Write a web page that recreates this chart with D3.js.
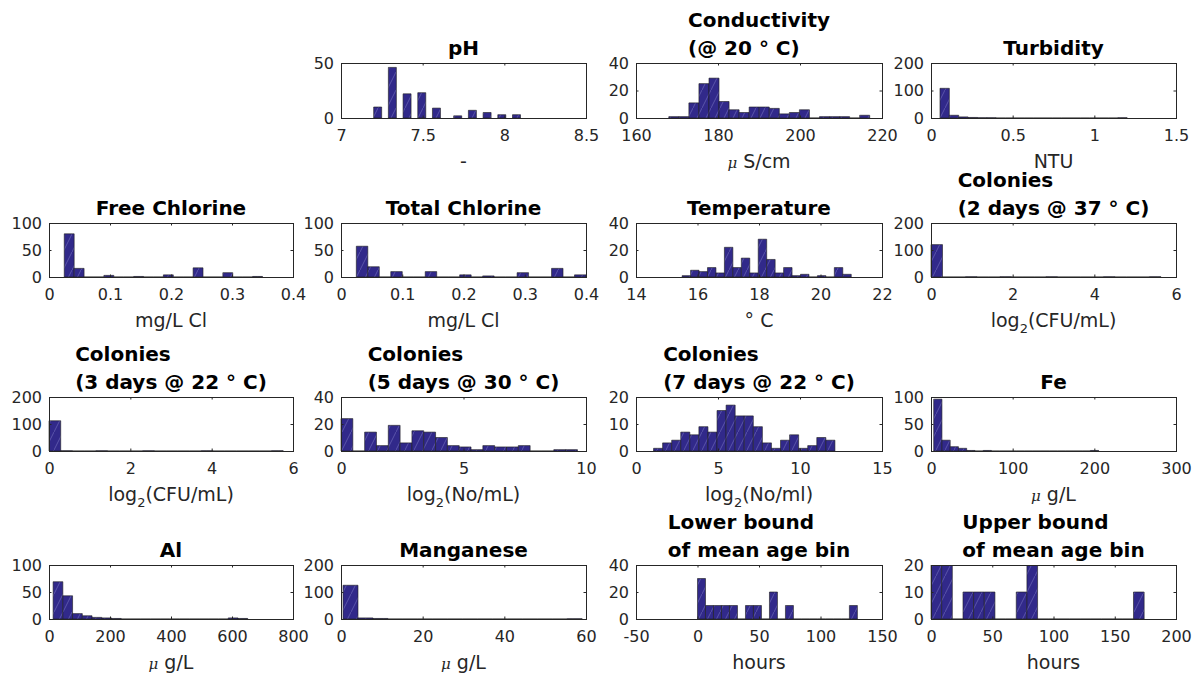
<!DOCTYPE html>
<html>
<head>
<meta charset="utf-8">
<script src="https://cdn.jsdelivr.net/npm/d3@7"></script>
<style>
  body { margin: 0; background: #fff; }
  svg { display: block; }
  text { font-family: "DejaVu Sans", sans-serif; }
</style>
</head>
<body>
<svg id="chart"></svg>
<script>
// Histogram data (bin start, bin width, counts)

// pH (irregular bars)
const phLeft = [7.20, 7.29, 7.38, 7.47, 7.56, 7.69, 7.78, 7.87, 7.96, 8.05];
const phWidth = 0.049;
const phCounts = [10, 46, 22, 23, 9, 2, 7, 5, 3, 3];

// Conductivity
const condStart = 168, condWidth = 2.45;
const condCounts = [1, 1, 11, 25, 29, 12, 6, 4, 8, 8, 7, 3, 4, 6, 0, 1, 1, 1, 0, 2];

// Turbidity
const turbStart = 0.055, turbWidth = 0.0573;
const turbCounts = [108, 10, 4, 2, 1, 1, 0, 0, 0, 0, 0, 0, 0, 0, 0, 0, 0, 0, 0, 1];

// Free chlorine
const fclStart = 0.025, fclWidth = 0.01625;
const fclCounts = [80, 16, 0, 0, 3, 0, 0, 1, 0, 0, 4, 0, 0, 17, 0, 0, 8, 0, 0, 1];

// Total chlorine
const tclStart = 0.025, tclWidth = 0.01875;
const tclCounts = [57, 19, 0, 10, 0, 0, 10, 0, 0, 4, 0, 2, 0, 0, 8, 0, 0, 16, 0, 4];

// Temperature
const tempStart = 15.5, tempWidth = 0.275;
const tempCounts = [1, 5, 4, 7, 3, 22, 7, 14, 3, 28, 13, 3, 7, 1, 2, 0, 1, 0, 7, 2];

// Colonies 2 days @ 37
const c2Start = 0, c2Width = 0.2815;
const c2Counts = [120, 0, 0, 1, 0, 0, 1, 0, 0, 0, 1, 0, 0, 0, 0, 1, 0, 0, 0, 1];

// Colonies 3 days @ 22
const c3Start = 0, c3Width = 0.288;
const c3Counts = [112, 1, 0, 0, 1, 0, 0, 0, 1, 0, 0, 0, 0, 1, 0, 0, 0, 0, 0, 1];

// Colonies 5 days @ 30
const c5Start = 0, c5Width = 0.4825;
const c5Counts = [24, 0, 14, 4, 19, 6, 15, 14, 10, 4, 3, 1, 4, 3, 3, 4, 0, 0, 1, 1];

// Colonies 7 days @ 22
const c7Start = 1.07, c7Width = 0.553;
const c7Counts = [1, 3, 4, 7, 6, 9, 7, 15, 17, 13, 13, 9, 3, 1, 4, 6, 1, 2, 5, 4];

// Fe
const feStart = 3.3, feWidth = 10.1;
const feCounts = [96, 20, 8, 5, 1, 0, 1, 0, 0, 0, 0, 0, 0, 0, 0, 0, 0, 0, 0, 1];

// Al
const alStart = 13.5, alWidth = 31.9;
const alCounts = [69, 43, 10, 6, 3, 2, 1, 0, 0, 0, 0, 0, 0, 0, 0, 0, 0, 0, 2, 1];

// Manganese
const mnStart = 0.5, mnWidth = 3.66;
const mnCounts = [125, 4, 2, 0, 0, 0, 0, 0, 0, 0, 0, 0, 0, 0, 0, 1];

// Lower bound of mean age bin
const lowStart = 0, lowWidth = 6.5;
const lowCounts = [30, 10, 10, 10, 10, 0, 10, 10, 0, 20, 0, 10, 0, 0, 0, 0, 0, 0, 0, 10];

// Upper bound of mean age bin
const upStart = 0, upWidth = 8.7;
const upCounts = [30, 20, 0, 10, 10, 10, 0, 0, 10, 20, 0, 0, 0, 0, 0, 0, 0, 0, 0, 10];

// Tick values
const phXTicks = [7, 7.5, 8, 8.5], phYTicks = [0, 50];
const condXTicks = [160, 180, 200, 220], condYTicks = [0, 20, 40];
const turbXTicks = [0, 0.5, 1, 1.5], turbYTicks = [0, 100, 200];
const clXTicks = [0, 0.1, 0.2, 0.3, 0.4], clYTicks = [0, 50, 100];
const tempXTicks = [14, 16, 18, 20, 22], tempYTicks = [0, 20, 40];
const cfuXTicks = [0, 2, 4, 6], cfuYTicks = [0, 100, 200];
const c5XTicks = [0, 5, 10], c5YTicks = [0, 20, 40];
const c7XTicks = [0, 5, 10, 15], c7YTicks = [0, 10, 20];
const feXTicks = [0, 100, 200, 300], feYTicks = [0, 50, 100];
const alXTicks = [0, 200, 400, 600, 800], alYTicks = [0, 50, 100];
const mnXTicks = [0, 20, 40, 60], mnYTicks = [0, 100, 200];
const lowXTicks = [-50, 0, 50, 100, 150], lowYTicks = [0, 20, 40];
const upXTicks = [0, 50, 100, 150, 200], upYTicks = [0, 10, 20];

// Layout of the 4x4 grid (pixel bounds of each axes box)
const colX = [[49, 293], [341, 586], [636, 882], [931, 1176]];
const rowY = [[63, 118], [223, 277], [397, 451], [565, 619]];

const regular = (start, width, counts) => counts.map((n, i) => ({x0: start + i * width, x1: start + (i + 1) * width, n}));

const panels = [
  {row: 0, col: 1, title: ["pH"], xlabel: "-", xDom: [7, 8.5], yDom: [0, 50], xt: phXTicks, yt: phYTicks,
    bins: phCounts.map((n, i) => ({x0: phLeft[i], x1: phLeft[i] + phWidth, n}))},
  {row: 0, col: 2, title: ["Conductivity", "(@ 20 ° C)"], xlabel: "\\mu S/cm", xDom: [160, 220], yDom: [0, 40], xt: condXTicks, yt: condYTicks,
    bins: regular(condStart, condWidth, condCounts)},
  {row: 0, col: 3, title: ["Turbidity"], xlabel: "NTU", xDom: [0, 1.5], yDom: [0, 200], xt: turbXTicks, yt: turbYTicks,
    bins: regular(turbStart, turbWidth, turbCounts)},
  {row: 1, col: 0, title: ["Free Chlorine"], xlabel: "mg/L Cl", xDom: [0, 0.4], yDom: [0, 100], xt: clXTicks, yt: clYTicks,
    bins: regular(fclStart, fclWidth, fclCounts)},
  {row: 1, col: 1, title: ["Total Chlorine"], xlabel: "mg/L Cl", xDom: [0, 0.4], yDom: [0, 100], xt: clXTicks, yt: clYTicks,
    bins: regular(tclStart, tclWidth, tclCounts)},
  {row: 1, col: 2, title: ["Temperature"], xlabel: "° C", xDom: [14, 22], yDom: [0, 40], xt: tempXTicks, yt: tempYTicks,
    bins: regular(tempStart, tempWidth, tempCounts)},
  {row: 1, col: 3, title: ["Colonies", "(2 days @ 37 ° C)"], xlabel: "log_2(CFU/mL)", xDom: [0, 6], yDom: [0, 200], xt: cfuXTicks, yt: cfuYTicks,
    bins: regular(c2Start, c2Width, c2Counts)},
  {row: 2, col: 0, title: ["Colonies", "(3 days @ 22 ° C)"], xlabel: "log_2(CFU/mL)", xDom: [0, 6], yDom: [0, 200], xt: cfuXTicks, yt: cfuYTicks,
    bins: regular(c3Start, c3Width, c3Counts)},
  {row: 2, col: 1, title: ["Colonies", "(5 days @ 30 ° C)"], xlabel: "log_2(No/mL)", xDom: [0, 10], yDom: [0, 40], xt: c5XTicks, yt: c5YTicks,
    bins: regular(c5Start, c5Width, c5Counts)},
  {row: 2, col: 2, title: ["Colonies", "(7 days @ 22 ° C)"], xlabel: "log_2(No/ml)", xDom: [0, 15], yDom: [0, 20], xt: c7XTicks, yt: c7YTicks,
    bins: regular(c7Start, c7Width, c7Counts)},
  {row: 2, col: 3, title: ["Fe"], xlabel: "\\mu g/L", xDom: [0, 300], yDom: [0, 100], xt: feXTicks, yt: feYTicks,
    bins: regular(feStart, feWidth, feCounts)},
  {row: 3, col: 0, title: ["Al"], xlabel: "\\mu g/L", xDom: [0, 800], yDom: [0, 100], xt: alXTicks, yt: alYTicks,
    bins: regular(alStart, alWidth, alCounts)},
  {row: 3, col: 1, title: ["Manganese"], xlabel: "\\mu g/L", xDom: [0, 60], yDom: [0, 200], xt: mnXTicks, yt: mnYTicks,
    bins: regular(mnStart, mnWidth, mnCounts)},
  {row: 3, col: 2, title: ["Lower bound", "of mean age bin"], xlabel: "hours", xDom: [-50, 150], yDom: [0, 40], xt: lowXTicks, yt: lowYTicks,
    bins: regular(lowStart, lowWidth, lowCounts)},
  {row: 3, col: 3, title: ["Upper bound", "of mean age bin"], xlabel: "hours", xDom: [0, 200], yDom: [0, 20], xt: upXTicks, yt: upYTicks,
    bins: regular(upStart, upWidth, upCounts)}
];

const axisColor = "#262626";
const barColor = "#31298a";

const svg = d3.select("#chart").attr("width", 1199).attr("height", 677);
const defs = svg.append("defs");

// hatched fill of the bars
const hatch = defs.append("pattern")
  .attr("id", "hatch")
  .attr("patternUnits", "userSpaceOnUse")
  .attr("width", 9)
  .attr("height", 18);
hatch.append("rect").attr("width", 9).attr("height", 18).attr("fill", barColor);
hatch.append("path").attr("d", "M0,18L9,0").attr("stroke", "#8c88d0").attr("stroke-width", 0.6).attr("opacity", 0.75);

panels.forEach((p, i) => drawPanel(p, i));

function drawPanel (p, i) {
  const [x0, x1] = colX[p.col];
  const [y0, y1] = rowY[p.row];
  const x = d3.scaleLinear().domain(p.xDom).range([x0, x1]);
  const y = d3.scaleLinear().domain(p.yDom).range([y1, y0]);
  const g = svg.append("g");

  defs.append("clipPath").attr("id", "clip" + i)
    .append("rect")
    .attr("x", x0 - 1).attr("y", y0)
    .attr("width", x1 - x0 + 2).attr("height", y1 - y0 + 1);

  // bars (paths so that empty bins still show as a line)
  g.append("g")
    .attr("clip-path", `url(#clip${i})`)
    .selectAll("path")
    .data(p.bins)
    .join("path")
    .attr("d", (d) => `M${x(d.x0)},${y(0)}V${y(d.n)}H${x(d.x1)}V${y(0)}Z`)
    .attr("fill", "url(#hatch)")
    .attr("stroke", "#1c1c1c")
    .attr("stroke-width", 0.6);

  const styleAxis = (a) => {
    a.select(".domain").remove();
    a.attr("font-family", "DejaVu Sans").attr("font-size", 16);
    a.selectAll("line").attr("stroke", axisColor);
    a.selectAll("text").attr("fill", axisColor);
  };

  g.append("g")
    .attr("transform", `translate(0,${y1})`)
    .call(d3.axisBottom(x).tickValues(p.xt).tickSizeInner(-2.5).tickSizeOuter(0).tickPadding(12).tickFormat((d) => String(d)))
    .call(styleAxis);
  g.append("g")
    .attr("transform", `translate(0,${y0})`)
    .call(d3.axisTop(x).tickValues(p.xt).tickSizeInner(-2.5).tickSizeOuter(0).tickFormat(""))
    .call(styleAxis);
  g.append("g")
    .attr("transform", `translate(${x0},0)`)
    .call(d3.axisLeft(y).tickValues(p.yt).tickSizeInner(-2.5).tickSizeOuter(0).tickPadding(7).tickFormat((d) => String(d)))
    .call(styleAxis);
  g.append("g")
    .attr("transform", `translate(${x1},0)`)
    .call(d3.axisRight(y).tickValues(p.yt).tickSizeInner(-2.5).tickSizeOuter(0).tickFormat(""))
    .call(styleAxis);

  // box
  g.append("rect")
    .attr("x", x0 + 0.5).attr("y", y0 + 0.5)
    .attr("width", x1 - x0).attr("height", y1 - y0)
    .attr("fill", "none")
    .attr("stroke", axisColor)
    .attr("stroke-width", 1);

  // title (multi-line titles are left aligned, block centred)
  const cx = (x0 + x1) / 2;
  const lineGap = 28;
  const baseY = y0 - 8;
  const titles = p.title.map((t, k) => g.append("text")
    .attr("y", baseY - (p.title.length - 1 - k) * lineGap)
    .attr("font-size", 20)
    .attr("font-weight", "bold")
    .attr("fill", "#000")
    .text(t));
  if (titles.length === 1) {
    titles[0].attr("x", cx).attr("text-anchor", "middle");
  } else {
    const maxW = d3.max(titles, (t) => t.node().getComputedTextLength());
    titles.forEach((t) => t.attr("x", cx - maxW / 2).attr("text-anchor", "start"));
  }

  // x label with TeX-like bits (\mu and _2)
  const lab = g.append("text")
    .attr("x", cx)
    .attr("y", y1 + 50)
    .attr("text-anchor", "middle")
    .attr("font-size", 19)
    .attr("fill", axisColor);
  const s = p.xlabel;
  if (s.startsWith("\\mu")) {
    lab.append("tspan")
      .attr("font-family", "DejaVu Serif")
      .attr("font-style", "italic")
      .attr("font-size", 15)
      .text("\u03bc");
    lab.append("tspan").text(s.slice(3));
  } else if (s.includes("_2")) {
    const parts = s.split("_2");
    lab.append("tspan").text(parts[0]);
    lab.append("tspan").attr("font-size", 13).attr("dy", 6).text("2");
    lab.append("tspan").attr("dy", -6).text(parts[1]);
  } else {
    lab.text(s);
  }
}
</script>
</body>
</html>
